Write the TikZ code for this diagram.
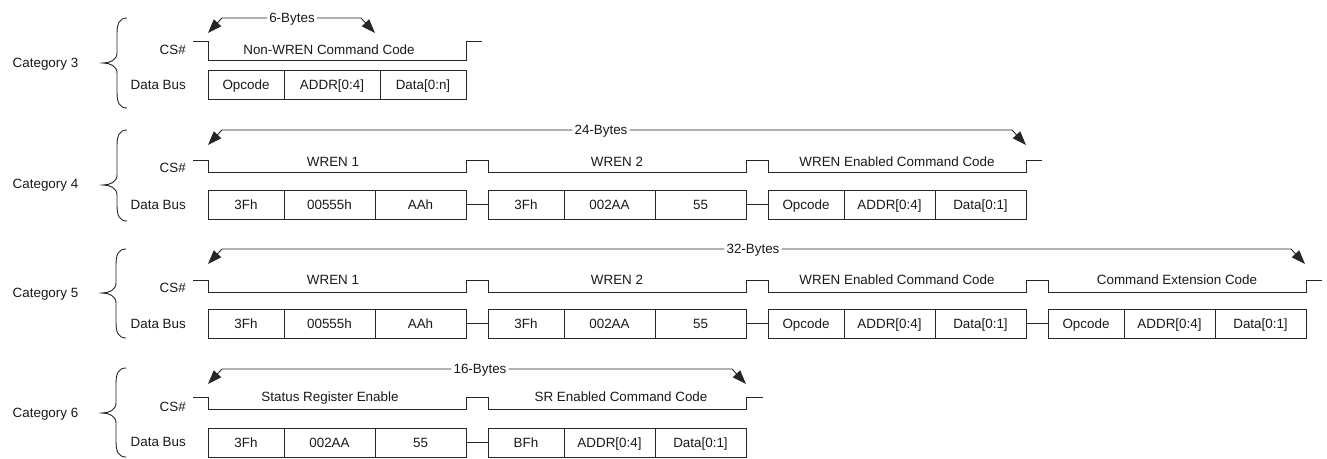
\documentclass[tikz,border=0pt]{standalone}
\usepackage{fontspec}
\setmainfont{Liberation Sans}
\usetikzlibrary{arrows.meta}
\newcommand\catbrace[4]{% #1 x right, #2 top, #3 tip y, #4 bottom
  \draw[wire] (#1,#2) .. controls ({#1-8},#2) and ({#1-10},{#2+6}) .. ({#1-10},{#2+16})
    -- ({#1-10},{#3-10}) .. controls ({#1-10},{#3-3}) and ({#1-17},#3) .. ({#1-24},#3)
    .. controls ({#1-17},#3) and ({#1-10},{#3+3}) .. ({#1-10},{#3+10})
    -- ({#1-10},{#4-16}) .. controls ({#1-10},{#4-6}) and ({#1-8},#4) .. (#1,#4);}
\newcommand\bytegroup[9]{% #1 name, #2 x0, #3 yc, #4-#6 widths, #7-#9 texts
  \node[cell,minimum width=#4pt] (#1a) at (#2,#3) {#7};
  \node[cell,minimum width=#5pt] (#1b) at (#1a.east) {#8};
  \node[cell,minimum width=#6pt] (#1c) at (#1b.east) {#9};}
\newcommand\bytespan[6]{% #1 name, #2 line y, #3 left tip x, #4 right tip x, #5 text x, #6 text
  \node[txt,inner xsep=2pt] (#1) at (#5,#2) {#6};
  \draw[spanline] (#1.west) -- ({#3+14},#2) -- (#3,{#2+15});
  \draw[spanline] (#1.east) -- ({#4-14},#2) -- (#4,{#2+15});}
\begin{document}
\begin{tikzpicture}[x=1pt,y=-1pt,
  wire/.style={line width=0.9pt,draw=black!85},
  txt/.style={font=\fontsize{13.4}{16}\selectfont,text=black!90,text height=9.6pt,text depth=0pt,inner sep=0pt},
  cell/.style={txt,draw=black!85,line width=0.9pt,minimum height=29pt,outer sep=0pt,anchor=west},
  spanline/.style={wire,arrows={-Triangle[length=14pt,width=10pt]}},
  lbl/.style={txt}]
\useasboundingbox (0,0) rectangle (1327,458);

% ---------------- Category 3
\node[lbl] (cat3) at (45.5,63) {Category 3};
\catbrace{127}{18}{63}{108}
\node[lbl,anchor=east] (cs3) at (186,50) {CS\#};
\node[lbl,anchor=east] (db3) at (186,85) {Data Bus};
\bytespan{b3}{18}{208}{375}{292}{6-Bytes}
\draw[wire] (193,41.7) -- (208,41.7) -- (208,60.7) -- (466,60.7) -- (466,41.7) -- (482,41.7);
\node[lbl] (t3a) at (329,50) {Non-WREN Command Code};
\bytegroup{g3x}{208}{85}{76}{96}{86}{Opcode}{ADDR[0:4]}{Data[0:n]}

% ---------------- Category 4
\node[lbl] (cat4) at (45.5,184) {Category 4};
\catbrace{127}{130}{185}{221}
\node[lbl,anchor=east] (cs4) at (186,168) {CS\#};
\node[lbl,anchor=east] (db4) at (186,204.5) {Data Bus};
\bytespan{b4}{130}{208}{1026}{601}{24-Bytes}
\draw[wire] (193,160) -- (208,160) -- (208,172) -- (466,172) -- (466,160) -- (488,160) -- (488,172)
  -- (746,172) -- (746,160) -- (768,160) -- (768,172) -- (1026,172) -- (1026,160) -- (1042,160);
\node[lbl] (t4a) at (333,162) {WREN 1};
\node[lbl] (t4b) at (617,162) {WREN 2};
\node[lbl] (t4c) at (897,162) {WREN Enabled Command Code};
\bytegroup{g4x}{208}{204.5}{76}{91}{91}{3Fh}{00555h}{AAh}
\bytegroup{g4y}{488}{204.5}{76}{91}{91}{3Fh}{002AA}{55}
\bytegroup{g4z}{768}{204.5}{76}{91}{91}{Opcode}{ADDR[0:4]}{Data[0:1]}
\draw[wire] (g4xc.east) -- (g4ya.west);
\draw[wire] (g4yc.east) -- (g4za.west);

% ---------------- Category 5
\node[lbl] (cat5) at (45.5,293) {Category 5};
\catbrace{126}{249}{293}{338}
\node[lbl,anchor=east] (cs5) at (186,288) {CS\#};
\node[lbl,anchor=east] (db5) at (186,323.5) {Data Bus};
\bytespan{b5}{249}{208}{1305}{753}{32-Bytes}
\draw[wire] (193,280) -- (208,280) -- (208,292) -- (466,292) -- (466,280) -- (488,280) -- (488,292)
  -- (746,292) -- (746,280) -- (768,280) -- (768,292) -- (1026,292) -- (1026,280) -- (1048,280)
  -- (1048,292) -- (1306,292) -- (1306,280) -- (1322,280);
\node[lbl] (t5a) at (333,280) {WREN 1};
\node[lbl] (t5b) at (617,280) {WREN 2};
\node[lbl] (t5c) at (897,280) {WREN Enabled Command Code};
\node[lbl] (t5d) at (1177,280) {Command Extension Code};
\bytegroup{g5x}{208}{323.5}{76}{91}{91}{3Fh}{00555h}{AAh}
\bytegroup{g5y}{488}{323.5}{76}{91}{91}{3Fh}{002AA}{55}
\bytegroup{g5z}{768}{323.5}{76}{91}{91}{Opcode}{ADDR[0:4]}{Data[0:1]}
\bytegroup{g5w}{1048}{323.5}{76}{91}{91}{Opcode}{ADDR[0:4]}{Data[0:1]}
\draw[wire] (g5xc.east) -- (g5ya.west);
\draw[wire] (g5yc.east) -- (g5za.west);
\draw[wire] (g5zc.east) -- (g5wa.west);

% ---------------- Category 6
\node[lbl] (cat6) at (45.5,413) {Category 6};
\catbrace{126}{368}{413}{457}
\node[lbl,anchor=east] (cs6) at (186,407) {CS\#};
\node[lbl,anchor=east] (db6) at (186,442) {Data Bus};
\bytespan{b6}{369}{208}{746}{480}{16-Bytes}
\draw[wire] (193,397) -- (208,397) -- (208,409) -- (466,409) -- (466,397) -- (488,397) -- (488,409)
  -- (746,409) -- (746,397) -- (763,397);
\node[lbl] (t6a) at (330,397) {Status Register Enable};
\node[lbl] (t6b) at (621,397) {SR Enabled Command Code};
\bytegroup{g6x}{208}{442.5}{76}{91}{91}{3Fh}{002AA}{55}
\bytegroup{g6y}{488}{442.5}{76}{91}{91}{BFh}{ADDR[0:4]}{Data[0:1]}
\draw[wire] (g6xc.east) -- (g6ya.west);
\end{tikzpicture}
\end{document}
